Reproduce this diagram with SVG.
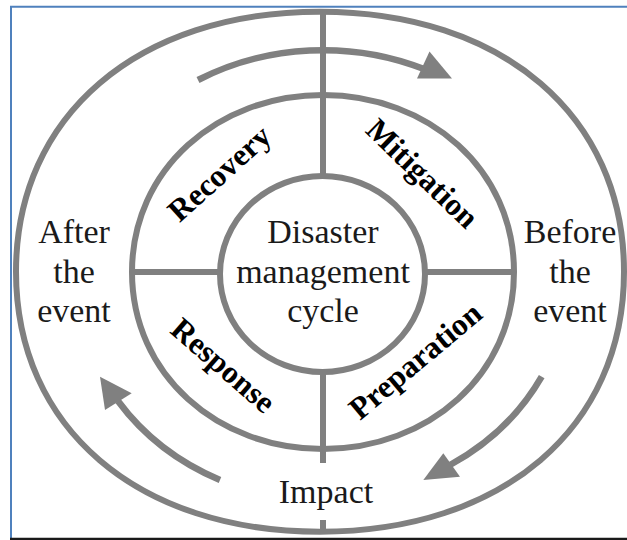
<svg xmlns="http://www.w3.org/2000/svg" width="627" height="540" viewBox="0 0 627 540">
  <style>
    .ring { fill: none; stroke: #808080; stroke-width: 6; }
    .div { stroke: #808080; stroke-width: 6; fill: none; }
    .shaft { fill: none; stroke: #808080; stroke-width: 6.5; }
    .head { fill: #808080; stroke: none; }
    .t { font-family: "Liberation Serif", "Times New Roman", serif; font-size: 34px; fill: #1a1a1a; text-anchor: middle; }
    .b { font-family: "Liberation Serif", "Times New Roman", serif; font-size: 31.5px; font-weight: bold; fill: #000; text-anchor: middle; }
  </style>
  <rect width="627" height="540" fill="#ffffff"/>
  <g id="frame">
    <line x1="10" y1="6.7" x2="627" y2="6.7" stroke="#4f81bd" stroke-width="2"/>
    <line x1="11" y1="6" x2="11" y2="538" stroke="#4f81bd" stroke-width="2"/>
    <line x1="10" y1="539" x2="627" y2="539" stroke="#1a1a1a" stroke-width="2.5"/>
  </g>
  <g id="rings">
    <path id="outer-ring" class="ring" d="M624,271.7 C624,427.7 502.4,531.7 320,531.7 C137.6,531.7 16,427.7 16,271.7 C16,115.7 137.6,11.7 320,11.7 C502.4,11.7 624,115.7 624,271.7 Z"/>
    <path id="middle-ring" class="ring" d="M514,272 C514,374.7 428.5,449 323,449 C217.5,449 132,374.7 132,272 C132,169.3 217.5,95 323,95 C428.5,95 514,169.3 514,272 Z"/>
    <ellipse id="inner-ring" class="ring" cx="322.5" cy="274" rx="102.5" ry="98"/>
  </g>
  <g id="dividers">
    <line class="div" x1="323" y1="11" x2="323" y2="177"/>
    <line class="div" x1="323" y1="371" x2="323" y2="463"/>
    <line class="div" x1="323" y1="520" x2="323" y2="532"/>
    <line class="div" x1="132" y1="272" x2="221" y2="272"/>
    <line class="div" x1="424" y1="272" x2="514" y2="272"/>
  </g>
  <g id="connectors">
    <path class="shaft" d="M198,80 A250,222 0 0 1 424,69"/>
    <polygon class="head" points="429.5,51.5 452,78.5 417,78.5"/>
    <path class="shaft" d="M541.7,376.7 A250,224 0 0 1 450,465"/>
    <polygon class="head" points="443.3,453.3 460,476.7 423.3,480"/>
    <path class="shaft" d="M220,480 A250,224 0 0 1 118,401"/>
    <polygon class="head" points="100,376.7 131.7,393.3 105,410"/>
  </g>
  <g id="center">
    <text class="t" x="323" y="243">Disaster</text>
    <text class="t" x="323" y="283">management</text>
    <text class="t" x="323" y="322">cycle</text>
  </g>
  <g id="recovery">
    <text class="b" transform="translate(221.7,176) rotate(-42)" x="0" y="7">Recovery</text>
  </g>
  <g id="mitigation">
    <text class="b" transform="translate(420,176) rotate(44)" x="0" y="7">Mitigation</text>
  </g>
  <g id="preparation">
    <text class="b" transform="translate(417.5,363.5) rotate(-40)" x="0" y="7">Preparation</text>
  </g>
  <g id="response">
    <text class="b" transform="translate(221,368) rotate(41)" x="0" y="7">Response</text>
  </g>
  <g id="after">
    <text class="t" x="74" y="243">After</text>
    <text class="t" x="74" y="283">the</text>
    <text class="t" x="74" y="322">event</text>
  </g>
  <g id="before">
    <text class="t" x="570" y="243">Before</text>
    <text class="t" x="570" y="283">the</text>
    <text class="t" x="570" y="322">event</text>
  </g>
  <g id="impact">
    <text class="t" x="326" y="503">Impact</text>
  </g>
</svg>
